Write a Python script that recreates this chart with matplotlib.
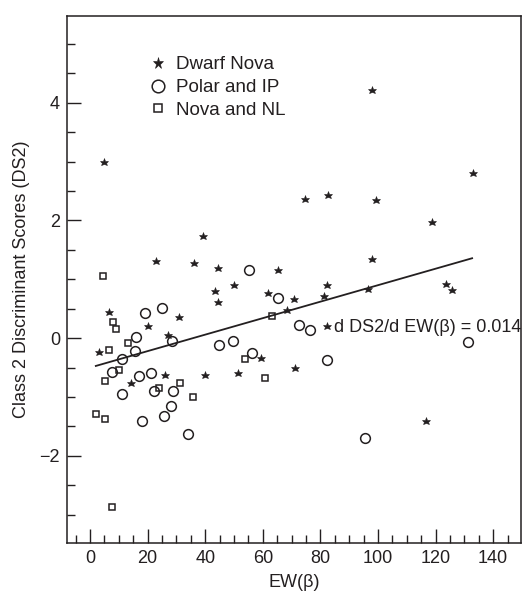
import numpy as np
import matplotlib
matplotlib.use("Agg")
import matplotlib.pyplot as plt

plt.rcParams['font.family'] = ['Liberation Sans', 'DejaVu Sans']

# Dwarf Nova (stars)
dn_x = [5.0, 98.0, 133.1, 74.6, 82.8, 99.3, 118.9, 39.4, 98.0, 22.9, 36.0, 44.3, 65.2,
        82.2, 50.0, 43.5, 123.6, 125.8, 96.6, 61.9, 81.4, 70.7, 44.4, 68.4, 6.5, 30.9,
        82.2, 20.1, 27.2, 3.0, 59.4, 71.1, 51.5, 26.0, 40.0, 14.1, 116.7]
dn_y = [3.0, 4.21, 2.81, 2.37, 2.43, 2.35, 1.97, 1.73, 1.35, 1.31, 1.28, 1.19, 1.15,
        0.90, 0.90, 0.80, 0.92, 0.82, 0.84, 0.76, 0.72, 0.66, 0.62, 0.48, 0.44, 0.36,
        0.20, 0.20, 0.06, -0.23, -0.33, -0.51, -0.59, -0.62, -0.63, -0.76, -1.41]

# Polar and IP (circles)
pol_x = [55.3, 65.4, 19.0, 24.9, 15.9, 28.6, 15.5, 11.2, 7.5, 17.1, 21.1, 11.1, 22.2,
         28.8, 28.1, 25.7, 18.2, 34.0, 44.9, 49.7, 56.4, 72.5, 76.4, 131.1, 82.2, 95.5]
pol_y = [1.15, 0.69, 0.42, 0.51, 0.02, -0.05, -0.21, -0.36, -0.58, -0.64, -0.60, -0.95, -0.90,
         -0.90, -1.16, -1.32, -1.41, -1.63, -0.11, -0.05, -0.25, 0.22, 0.14, -0.06, -0.37, -1.69]

# Nova and NL (squares)
nl_x = [4.4, 8.1, 8.9, 13.2, 6.7, 10.2, 5.2, 2.1, 5.3, 7.5, 24.0, 31.4, 35.8, 53.9, 60.8, 63.3]
nl_y = [1.06, 0.28, 0.15, -0.08, -0.20, -0.54, -0.73, -1.29, -1.37, -2.86, -0.85, -0.77,
        -1.00, -0.35, -0.68, 0.38]

# regression line
slope = 0.014
intercept = -0.50
fit_x = np.array([2.0, 132.7])

ink = '#231f20'

fig = plt.figure(figsize=(5.29, 6.0), dpi=100)
ax = fig.add_axes([0.1267, 0.095, 0.8583, 0.878])

ax.plot(dn_x, dn_y, ls='none', marker='*', ms=6.2, color=ink, mew=0.4, label='Dwarf Nova')
ax.plot(pol_x, pol_y, ls='none', marker='o', ms=7, mfc='none', mec=ink, mew=1.1, label='Polar and IP')
ax.plot(nl_x, nl_y, ls='none', marker='s', ms=4.8, mfc='none', mec=ink, mew=1.1, label='Nova and NL')
ax.plot(fit_x, intercept + slope * fit_x, color=ink, lw=1.3)

ax.text(84.6, 0.11, 'd DS2/d EW(\u03b2) = 0.014', fontsize=13, ha='left', va='baseline', color=ink)

ax.set_xlim(-8, 149.7)
ax.set_ylim(-3.48, 5.47)
ax.set_xticks(np.arange(0, 141, 20))
ax.set_xticks(np.arange(-5, 149, 5), minor=True)
ax.set_yticks([-2, 0, 2, 4])
ax.set_yticklabels(['\u22122', '0', '2', '4'])
ax.set_yticks(np.arange(-3, 5.3, 0.5), minor=True)
ax.tick_params(which='both', direction='in', top=False, right=False, color=ink,
               labelsize=13, labelcolor=ink, pad=5, width=1)
ax.tick_params(which='major', length=10)
ax.tick_params(which='minor', length=5.5)
for s in ax.spines.values():
    s.set_linewidth(1.1)
    s.set_color(ink)

ax.set_xlabel('EW(\u03b2)', fontsize=13, color=ink, labelpad=5)
ax.set_ylabel('Class 2 Discriminant Scores (DS2)', fontsize=13, color=ink, labelpad=7)

ax.legend(loc='upper left', bbox_to_anchor=(0.142, 0.956), frameon=False, fontsize=13.5,
          markerscale=1.3, handlelength=1.0, handletextpad=0.5, labelspacing=0.3,
          labelcolor=ink)

fig.savefig('out.png', dpi=100)
